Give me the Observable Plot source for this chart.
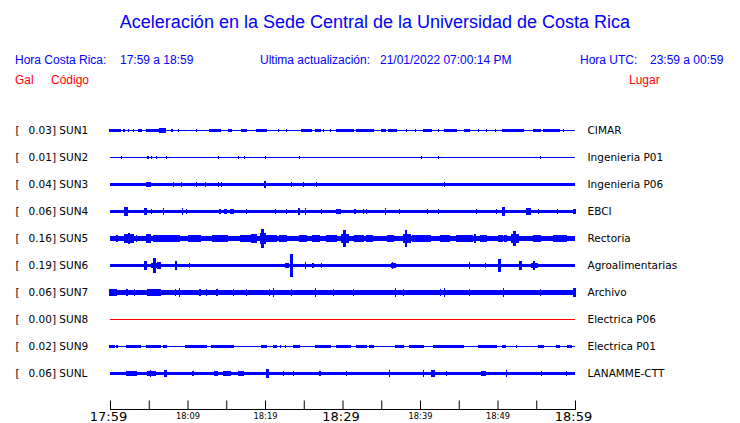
<!DOCTYPE html>
<html><head><meta charset="utf-8">
<script src="https://cdn.jsdelivr.net/npm/d3@7"></script>
<script src="https://cdn.jsdelivr.net/npm/@observablehq/plot@0.6"></script>
<style>
body{margin:0;background:#fff;}
#wrap{position:relative;width:740px;height:423px;overflow:hidden;font-family:"Liberation Sans",Arial,sans-serif;}
.t{position:absolute;white-space:pre;line-height:1;}
.title{font-size:18px;color:#0000ff;left:0;width:750px;text-align:center;top:13px;}
.h{font-size:12px;color:#0000ff;top:54px;}
.r{font-size:12px;color:#ff0000;top:74px;}
#chart{position:absolute;left:0;top:90px;}
</style></head><body>
<div id="wrap">
<div class="t title">Aceleración en la Sede Central de la Universidad de Costa Rica</div>
<div class="t h" style="left:15px">Hora Costa Rica:</div>
<div class="t h" style="left:120px">17:59 a 18:59</div>
<div class="t h" style="left:260px">Ultima actualización:</div>
<div class="t h" style="left:380px">21/01/2022 07:00:14 PM</div>
<div class="t h" style="left:580px">Hora UTC:</div>
<div class="t h" style="left:650px">23:59 a 00:59</div>
<div class="t r" style="left:15px">Gal</div>
<div class="t r" style="left:51px">Código</div>
<div class="t r" style="left:629px">Lugar</div>
<div id="chart"></div>
</div>
<script>
// ---- data ----
const stations = ["SUN1","SUN2","SUN3","SUN4","SUN5","SUN6","SUN7","SUN8","SUN9","SUNL"];
const peakGal = ["0.03","0.01","0.04","0.06","0.16","0.19","0.06","0.00","0.02","0.06"];
const places = ["CIMAR","Ingenieria P01","Ingenieria P06","EBCI","Rectoria","Agroalimentarias","Archivo","Electrica P06","Electrica P01","LANAMME-CTT"];
// background noise half-amplitude (Gal)
const baseGal = [0.008,0.008,0.03,0.03,0.045,0.02,0.042,0.008,0.008,0.032];
// bursts: [start minute, end minute, half-amplitude Gal]
const sun1 = [[0,1.3,0.024],[1.7,1.9,0.02],[2.4,2.4,0.02],[3.0,3.0,0.02],[3.7,4.1,0.024],[4.7,6.2,0.028],[6.4,7.1,0.035],[8.0,8.0,0.024],[8.8,8.8,0.02],[11.2,11.2,0.02],[12.9,14.2,0.024],[15.3,15.7,0.024],[17.0,17.6,0.024],[18.9,20.2,0.024],[21.7,21.7,0.02],[22.8,22.8,0.02],[24.7,26.0,0.024],[26.5,27.1,0.024],[27.5,27.5,0.02],[28.4,28.4,0.02],[29.2,31.4,0.024],[31.8,33.5,0.024],[33.5,34.0,0.024],[35.1,35.5,0.028],[35.9,37.0,0.024],[38.3,38.3,0.028],[39.4,39.4,0.02],[40.4,41.5,0.024],[42.4,42.4,0.02],[43.2,44.7,0.024],[45.8,46.4,0.02],[47.5,47.5,0.02],[48.6,48.6,0.02],[49.7,49.7,0.02],[50.7,53.3,0.024],[54.6,55.5,0.03],[55.9,58.0,0.024],[58.5,58.5,0.02]];
const sun2 = [[1.5,1.5,0.02],[4.9,4.9,0.02],[5.4,5.4,0.02],[6.0,6.0,0.02],[7.3,7.3,0.02],[14.0,14.0,0.02],[16.6,16.6,0.02],[17.4,17.4,0.02],[20.1,20.1,0.025],[24.5,24.5,0.02],[40.2,40.2,0.02],[42.4,42.4,0.02],[55.5,55.5,0.02]];
const sun3 = [[4.7,5.2,0.045],[8.2,8.2,0.04],[9.2,9.2,0.04],[11.2,11.2,0.038],[12.3,12.3,0.038],[14.0,14.0,0.042],[14.4,14.4,0.042],[20.0,20.0,0.05],[23.4,23.4,0.04],[25.0,25.0,0.04],[26.6,26.6,0.04],[43.2,43.2,0.04]];
const sun4 = [[1.9,2.2,0.065],[4.5,4.7,0.05],[5.4,5.4,0.045],[6.9,6.9,0.05],[9.4,9.4,0.05],[9.9,9.9,0.045],[14.2,14.2,0.045],[14.8,15.0,0.045],[15.6,15.9,0.045],[17.6,17.6,0.042],[21.4,21.4,0.042],[22.8,22.8,0.042],[24.3,24.5,0.06],[25.2,25.2,0.06],[27.3,27.3,0.042],[29.2,29.7,0.045],[31.6,31.6,0.042],[32.7,32.7,0.042],[33.1,33.1,0.042],[35.5,35.5,0.05],[37.4,37.4,0.045],[41.0,41.0,0.045],[42.4,42.4,0.042],[47.3,47.3,0.042],[49.9,49.9,0.045],[50.7,50.9,0.065],[53.7,54.2,0.05],[55.3,55.3,0.042],[57.7,57.7,0.042],[59.8,60,0.045]];
const sun5 = [[0.9,0.9,0.06],[1.9,3.0,0.065],[2.4,2.5,0.095],[3.4,3.4,0.06],[4.7,5.2,0.065],[4.9,5.0,0.08],[5.6,9.0,0.055],[10.1,11.6,0.052],[13.3,15.1,0.052],[16.8,18.1,0.056],[18.3,18.9,0.065],[19.4,20.0,0.09],[19.6,19.8,0.15],[20.2,21.5,0.06],[21.9,22.8,0.052],[24.5,25.4,0.05],[26.2,27.0,0.052],[28.0,29.2,0.06],[29.9,30.8,0.075],[30.2,30.4,0.13],[31.6,32.7,0.056],[33.1,33.8,0.052],[35.8,36.6,0.052],[37.9,38.7,0.08],[38.1,38.3,0.13],[39.1,41.3,0.056],[42.6,43.8,0.052],[44.7,46.8,0.052],[47.1,47.1,0.065],[47.8,48.6,0.052],[50.2,50.6,0.052],[50.9,51.2,0.056],[51.8,52.7,0.07],[52.1,52.3,0.12],[54.6,55.5,0.052],[57.2,58.9,0.052]];
const sun6 = [[1.7,2.4,0.032],[4.5,4.7,0.08],[5.4,6.0,0.045],[5.6,5.8,0.12],[6.2,6.5,0.06],[8.4,8.6,0.08],[10.3,10.3,0.035],[11.2,11.2,0.032],[12.0,12.0,0.032],[13.8,13.8,0.032],[15.9,15.9,0.032],[18.5,18.5,0.032],[19.8,19.8,0.032],[22.6,23.0,0.04],[23.3,23.5,0.19],[25.2,25.2,0.05],[26.2,26.2,0.04],[27.3,27.3,0.035],[28.6,28.6,0.032],[30.1,30.1,0.032],[31.8,32.2,0.032],[36.3,36.8,0.045],[36.5,36.5,0.06],[39.1,39.1,0.032],[40.4,40.4,0.032],[43.2,43.2,0.032],[45.2,45.2,0.032],[46.0,47.3,0.032],[46.4,46.4,0.05],[48.4,48.4,0.035],[50.2,50.4,0.1],[52.9,53.1,0.07],[54.4,55.1,0.04],[54.7,54.8,0.08],[56.3,56.3,0.032],[58.3,58.3,0.032]];
const sun7 = [[0.0,0.8,0.05],[0.2,0.2,0.06],[1.0,4.5,0.046],[2.2,2.2,0.05],[3.2,3.2,0.05],[4.9,6.5,0.05],[8.4,8.4,0.055],[9.0,9.0,0.065],[9.5,11.0,0.046],[11.6,11.6,0.05],[12.5,12.5,0.05],[13.8,13.8,0.05],[15.9,15.9,0.05],[17.6,17.6,0.05],[18.0,20.0,0.046],[20.6,20.6,0.05],[21.1,21.1,0.065],[23.4,23.4,0.06],[24.0,26.0,0.046],[26.5,26.5,0.065],[28.8,28.8,0.05],[31.4,31.4,0.05],[33.0,35.0,0.046],[36.8,36.8,0.065],[37.9,37.9,0.05],[39.0,41.0,0.046],[42.6,42.6,0.06],[43.2,43.2,0.07],[46.4,46.4,0.05],[47.0,49.0,0.046],[50.8,50.8,0.065],[52.0,54.0,0.046],[55.5,55.5,0.05],[56.0,58.0,0.046],[59.8,60,0.065]];
const sun8 = [];
const sun9 = [[0,0.6,0.024],[0.9,0.9,0.024],[2.2,3.9,0.024],[4.7,6.5,0.024],[6.9,7.3,0.024],[9.7,12.5,0.024],[13.1,15.9,0.024],[19.6,20.2,0.03],[21.1,21.5,0.024],[22.0,22.0,0.024],[22.6,22.6,0.024],[23.7,24.5,0.024],[26.5,28.4,0.024],[29.2,31.0,0.024],[31.8,33.1,0.024],[33.5,34.0,0.024],[36.9,37.8,0.024],[38.7,40.4,0.024],[41.7,45.6,0.024],[47.5,49.8,0.024],[50.6,51.0,0.024],[52.4,52.4,0.024],[55.3,55.9,0.024],[57.6,58.0,0.024],[59.1,59.5,0.024]];
const sunL = [[2.2,3.4,0.045],[4.9,5.8,0.045],[5.2,5.2,0.05],[7.1,7.3,0.05],[10.7,10.7,0.042],[13.5,13.8,0.042],[14.6,15.5,0.042],[16.6,17.2,0.045],[20.2,20.4,0.065],[22.4,22.4,0.042],[23.7,23.7,0.042],[27.1,27.1,0.042],[30.5,30.5,0.042],[36.1,36.1,0.05],[40.4,40.4,0.05],[41.5,41.9,0.05],[43.4,43.4,0.045],[48.0,48.4,0.045],[51.2,51.2,0.05],[55.7,55.7,0.045],[58.9,58.9,0.045]];
const burstLists = [sun1,sun2,sun3,sun4,sun5,sun6,sun7,sun8,sun9,sunL];
// time axis (minutes after 17:59)
const tickMinutes = [0,5,10,15,20,25,30,35,40,45,50,55,60];
const majorMinutes = [0,30,60];
const majorLabels = ["17:59","18:29","18:59"];
const minorMinutes = [10,20,40,50];
const minorLabels = ["18:09","18:19","18:39","18:49"];

// ---- build ----
const BLUE = "#0000ff", RED = "#ff0000";
const K = 62 / 27; // row units per Gal
const rows = stations.map((s, i) => ({s, i, label: `${peakGal[i]}] ${s}`, place: places[i]}));
const bands = stations.map((s, i) => ({s, i, x1: 0, x2: 60, y1: i - baseGal[i] * K, y2: i + baseGal[i] * K}));
const bursts = burstLists.flatMap((list, i) => list.map(([a, b, g]) => ({s: stations[i], x1: a, x2: b, y1: i - g * K, y2: i + g * K})));

const chart = Plot.plot({
  width: 740, height: 333,
  marginLeft: 110, marginRight: 165, marginTop: 0, marginBottom: 14,
  x: {domain: [0, 60], axis: null},
  y: {domain: [-1.5, 10.8333], range: [0, 333], axis: null},
  style: {fontFamily: "DejaVu Sans", background: "white", overflow: "visible"},
  marks: [
    Plot.rect(bands, {x1: "x1", x2: "x2", y1: "y1", y2: "y2", fill: d => d.s === "SUN8" ? RED : BLUE, shapeRendering: "crispEdges"}),
    Plot.rect(bursts, {x1: "x1", x2: "x2", y1: "y1", y2: "y2", fill: BLUE, insetLeft: -0.6, insetRight: -0.6, shapeRendering: "crispEdges"}),
    Plot.text(rows, {y: "i", text: () => "[", frameAnchor: "left", dx: -95, textAnchor: "start", fontSize: 10.5, fill: "black"}),
    Plot.text(rows, {y: "i", text: "label", frameAnchor: "left", dx: -82, textAnchor: "start", fontSize: 10.5, fill: "black"}),
    Plot.text(rows, {y: "i", text: "place", frameAnchor: "right", dx: 12, textAnchor: "start", fontSize: 10.5, fill: "black"}),
    Plot.ruleX(tickMinutes, {y1: 10.0, y2: 10.315, stroke: "black"}),
    Plot.frame({anchor: "bottom", stroke: "black"}),
    Plot.axisX(majorMinutes, {anchor: "bottom", tickSize: 0, tickPadding: 2, fontSize: 13, tickFormat: d => majorLabels[majorMinutes.indexOf(d)], fill: "black", dx: -2}),
    Plot.axisX(minorMinutes, {anchor: "bottom", tickSize: 0, tickPadding: 4, fontSize: 8.3, tickFormat: d => minorLabels[minorMinutes.indexOf(d)], fill: "black"})
  ]
});
document.getElementById("chart").appendChild(chart);
</script>
</body></html>
